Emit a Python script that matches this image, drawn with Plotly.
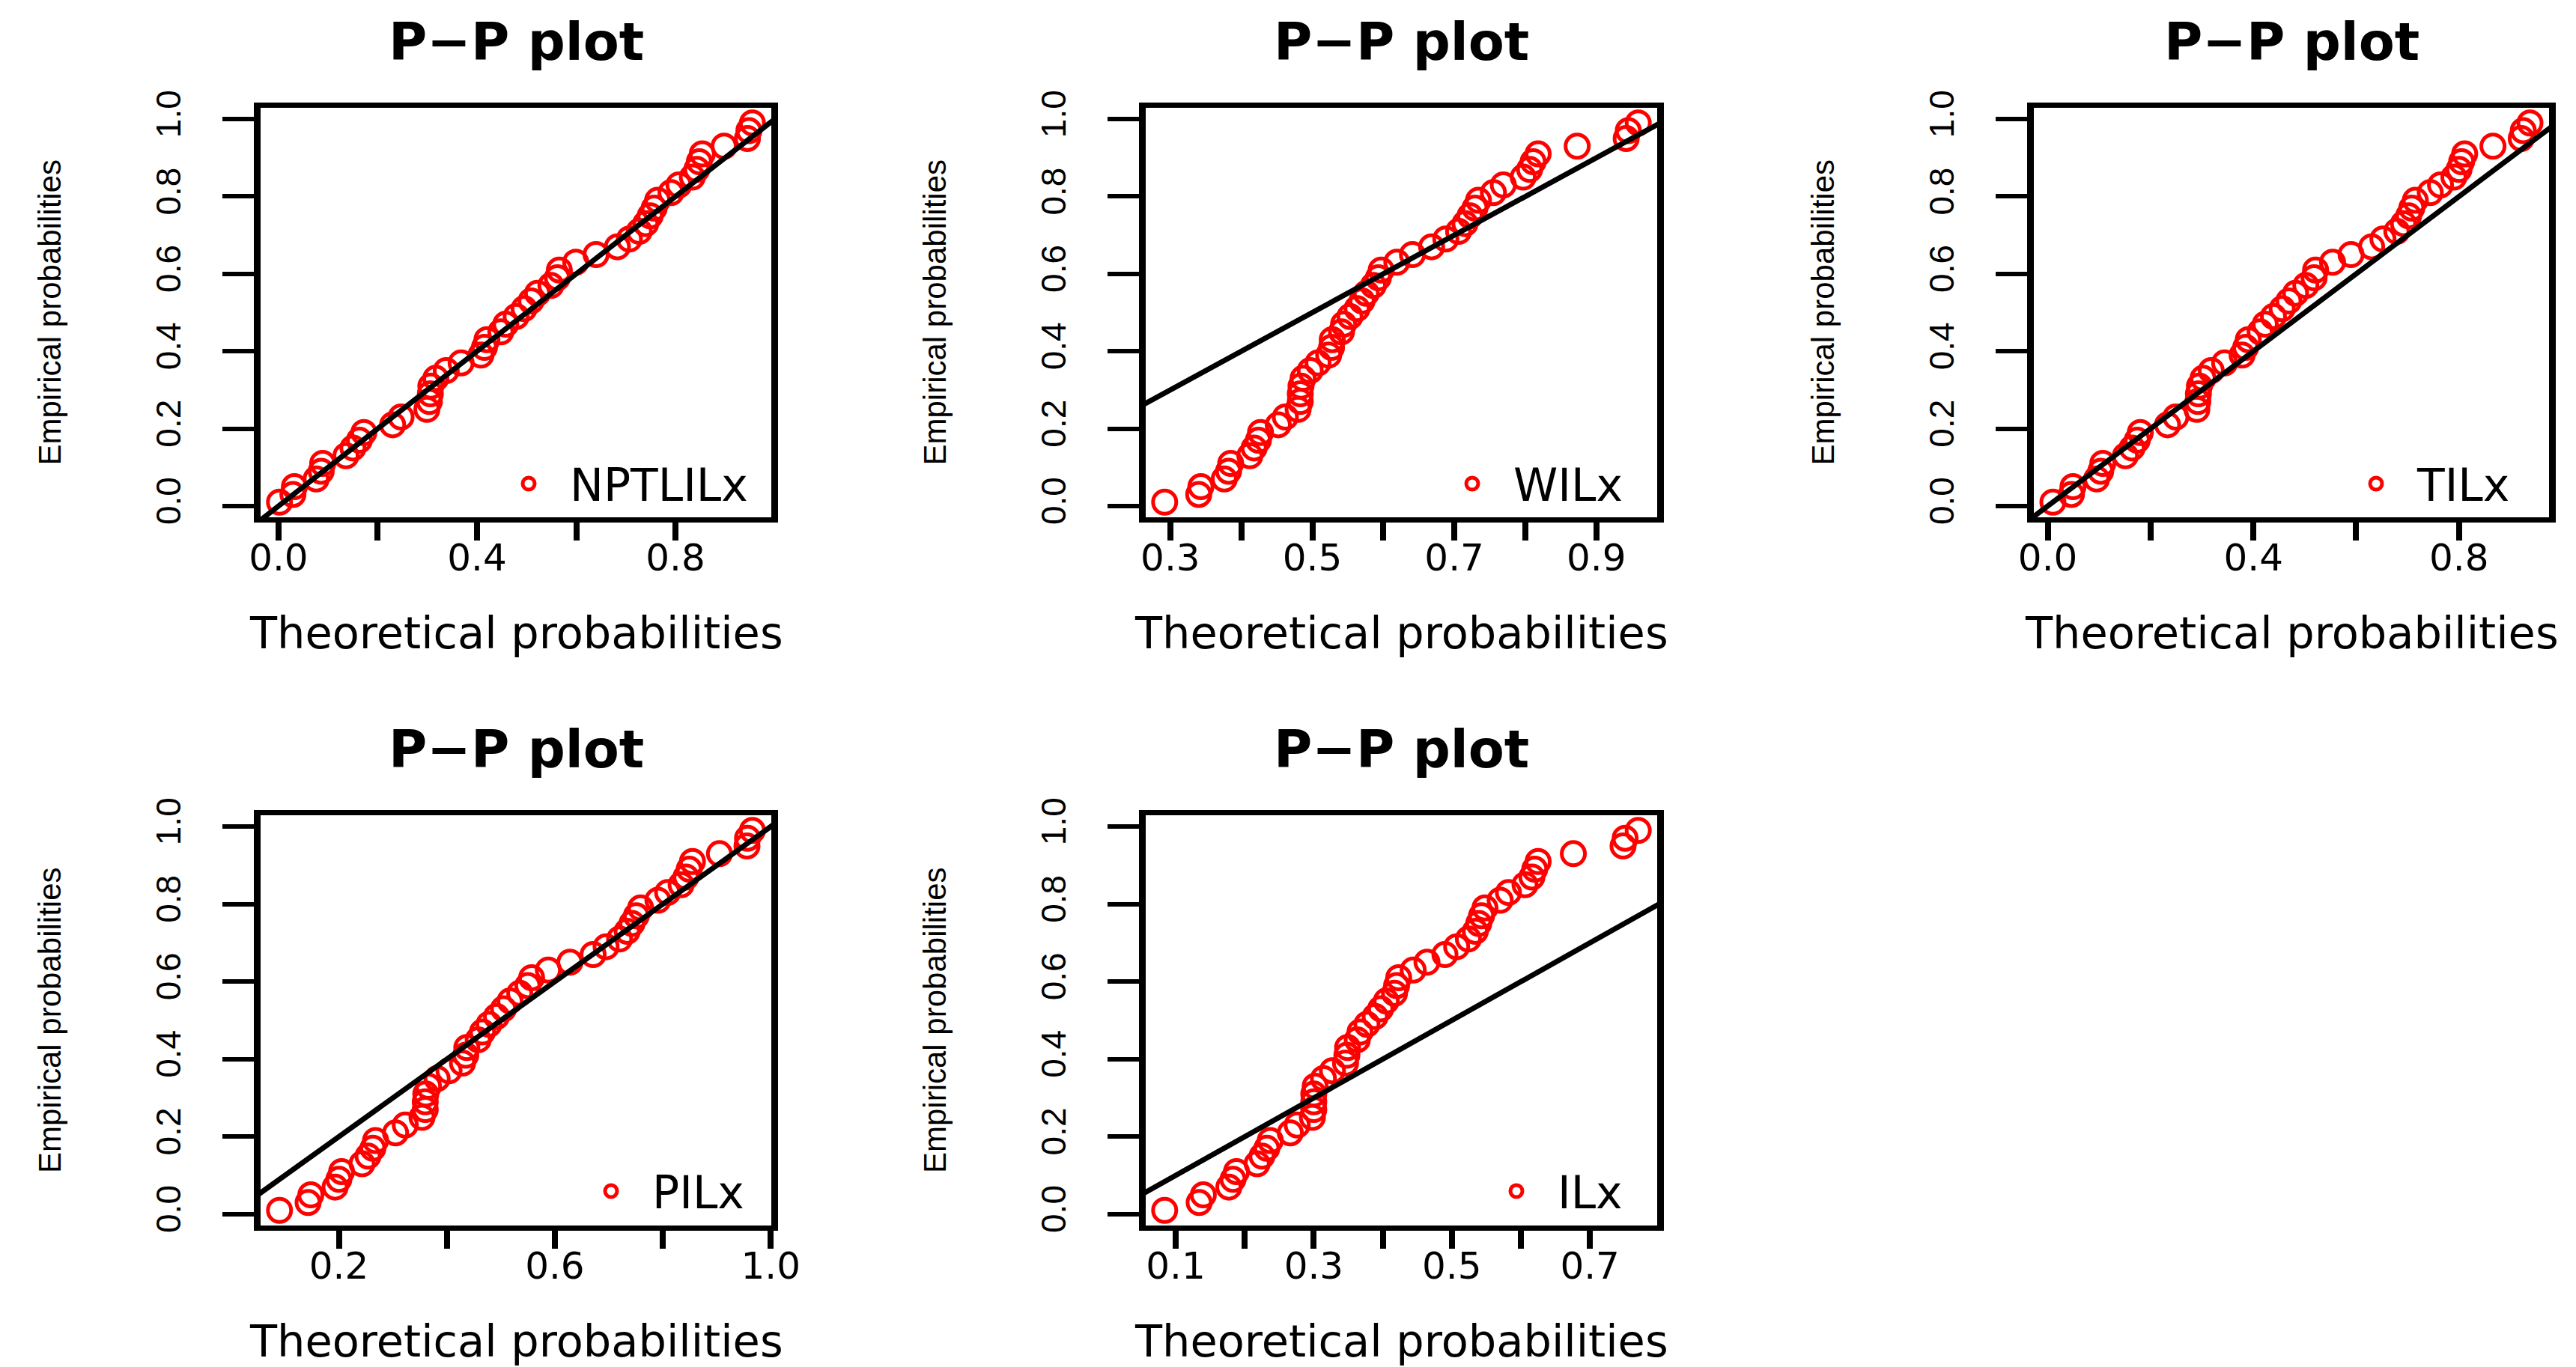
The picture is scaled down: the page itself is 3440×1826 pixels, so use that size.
import plotly.graph_objects as go

# ---------------- data ----------------
emp = [0.01, 0.03, 0.05, 0.07, 0.09, 0.11, 0.13, 0.15, 0.17, 0.19,
       0.21, 0.23, 0.25, 0.27, 0.29, 0.31, 0.33, 0.35, 0.37, 0.39,
       0.41, 0.43, 0.45, 0.47, 0.49, 0.51, 0.53, 0.55, 0.57, 0.59,
       0.61, 0.63, 0.65, 0.67, 0.69, 0.71, 0.73, 0.75, 0.77, 0.79,
       0.81, 0.83, 0.85, 0.87, 0.89, 0.91, 0.93, 0.95, 0.97, 0.99]

theo_nptlilx = [0.002, 0.029, 0.032, 0.076, 0.086, 0.089, 0.136, 0.150, 0.163, 0.172,
                0.230, 0.247, 0.299, 0.304, 0.306, 0.307, 0.317, 0.338, 0.368, 0.408,
                0.415, 0.420, 0.448, 0.458, 0.479, 0.495, 0.509, 0.522, 0.549, 0.562,
                0.566, 0.599, 0.640, 0.683, 0.707, 0.727, 0.740, 0.749, 0.757, 0.764,
                0.791, 0.807, 0.834, 0.843, 0.848, 0.854, 0.898, 0.945, 0.948, 0.955]

theo_wilx = [0.292, 0.340, 0.343, 0.376, 0.382, 0.385, 0.412, 0.418, 0.424, 0.427,
             0.452, 0.462, 0.480, 0.483, 0.483, 0.484, 0.487, 0.497, 0.508, 0.523,
             0.527, 0.528, 0.541, 0.544, 0.553, 0.563, 0.570, 0.576, 0.586, 0.593,
             0.597, 0.619, 0.641, 0.668, 0.688, 0.706, 0.715, 0.722, 0.729, 0.734,
             0.755, 0.769, 0.797, 0.806, 0.811, 0.818, 0.873, 0.942, 0.945, 0.959]

theo_tilx = [0.010, 0.046, 0.049, 0.095, 0.103, 0.107, 0.151, 0.164, 0.174, 0.180,
             0.233, 0.249, 0.290, 0.292, 0.293, 0.295, 0.302, 0.318, 0.344, 0.378,
             0.385, 0.390, 0.413, 0.423, 0.439, 0.456, 0.469, 0.482, 0.502, 0.518,
             0.521, 0.554, 0.590, 0.630, 0.652, 0.679, 0.692, 0.702, 0.708, 0.715,
             0.744, 0.764, 0.790, 0.800, 0.805, 0.811, 0.866, 0.921, 0.925, 0.938]

theo_pilx = [0.090, 0.143, 0.148, 0.193, 0.200, 0.205, 0.243, 0.254, 0.263, 0.268,
             0.305, 0.323, 0.354, 0.360, 0.360, 0.361, 0.366, 0.382, 0.404, 0.429,
             0.435, 0.437, 0.458, 0.466, 0.478, 0.492, 0.505, 0.517, 0.535, 0.550,
             0.557, 0.588, 0.628, 0.671, 0.695, 0.720, 0.734, 0.743, 0.751, 0.759,
             0.791, 0.809, 0.834, 0.843, 0.849, 0.855, 0.905, 0.956, 0.957, 0.966]

theo_ilx = [0.084, 0.134, 0.140, 0.177, 0.183, 0.188, 0.218, 0.225, 0.232, 0.237,
            0.266, 0.276, 0.298, 0.300, 0.300, 0.300, 0.302, 0.314, 0.327, 0.346,
            0.348, 0.349, 0.363, 0.367, 0.377, 0.389, 0.397, 0.405, 0.417, 0.420,
            0.423, 0.444, 0.464, 0.490, 0.507, 0.524, 0.534, 0.539, 0.543, 0.548,
            0.570, 0.582, 0.606, 0.616, 0.620, 0.625, 0.676, 0.748, 0.751, 0.770]

model_names = ["NPTLILx", "WILx", "TILx", "PILx", "ILx"]

x_tickvals_a = [0.0, 0.2, 0.4, 0.6, 0.8]
x_ticktext_a = ["0.0", "", "0.4", "", "0.8"]
x_tickvals_b = [0.3, 0.4, 0.5, 0.6, 0.7, 0.8, 0.9]
x_ticktext_b = ["0.3", "", "0.5", "", "0.7", "", "0.9"]
x_tickvals_c = [0.2, 0.4, 0.6, 0.8, 1.0]
x_ticktext_c = ["0.2", "", "0.6", "", "1.0"]
x_tickvals_d = [0.1, 0.2, 0.3, 0.4, 0.5, 0.6, 0.7]
x_ticktext_d = ["0.1", "", "0.3", "", "0.5", "", "0.7"]
y_tickvals = [0.0, 0.2, 0.4, 0.6, 0.8, 1.0]
y_ticktext = ["0.0", "0.2", "0.4", "0.6", "0.8", "1.0"]

title_text = "P\u2212P plot"
xlab = "Theoretical probabilities"
ylab = "Empirical probabilities"

# ---------------- layout geometry ----------------
W, H = 3440, 1826
OFF = 8  # page body margin offset
WIDE = "DejaVu Sans, Verdana, sans-serif"
NARROW = "Liberation Sans, Arial, Helvetica, sans-serif"

boxes = [  # (left, right, top, bottom) in page pixels
    (348, 1030, 144, 691),
    (1530, 2213, 144, 691),
    (2716, 3404, 144, 691),
    (348, 1030, 1089, 1637),
    (1530, 2213, 1089, 1637),
]
legend_pos = [  # (right edge px, center y px)
    (1004, 646), (2172, 646), (3358, 646), (999, 1591), (2172, 1591)
]

panels = [
    (theo_nptlilx, x_tickvals_a, x_ticktext_a),
    (theo_wilx, x_tickvals_b, x_ticktext_b),
    (theo_tilx, x_tickvals_a, x_ticktext_a),
    (theo_pilx, x_tickvals_c, x_ticktext_c),
    (theo_ilx, x_tickvals_d, x_ticktext_d),
]


def padded(vals):
    lo, hi = min(vals), max(vals)
    d = (hi - lo) * 0.04
    return [lo - d, hi + d]


fig = go.Figure()
layout = dict(
    width=W, height=H, autosize=False,
    margin=dict(l=0, r=0, t=0, b=0, pad=0, autoexpand=False),
    paper_bgcolor="white", plot_bgcolor="white",
    font=dict(family=WIDE, color="black"),
    annotations=[],
)

for k, (theo, tv, tt) in enumerate(panels):
    s = "" if k == 0 else str(k + 1)
    left, right, top, bottom = [v - OFF for v in boxes[k]]
    fig.add_trace(go.Scatter(
        x=theo, y=emp, mode="markers", name=model_names[k],
        xaxis="x" + s, yaxis="y" + s, legend="legend" + s,
        marker=dict(symbol="circle-open", size=31, color="#ff0000",
                    line=dict(width=5, color="#ff0000")),
        showlegend=True,
    ))
    fig.add_trace(go.Scatter(
        x=[-1, 2], y=[-1, 2], mode="lines",
        xaxis="x" + s, yaxis="y" + s,
        line=dict(color="black", width=7),
        showlegend=False, hoverinfo="skip",
    ))
    layout["xaxis" + s] = dict(
        domain=[left / W, right / W], anchor="y" + s, automargin=False,
        range=padded(theo), tickvals=tv, ticktext=tt,
        ticks="outside", ticklen=24, tickwidth=8, tickcolor="black",
        showline=True, linewidth=7, linecolor="black", mirror=True,
        showgrid=False, zeroline=False,
        tickfont=dict(family=WIDE, size=50, color="black"),
        ticklabelstandoff=-20,
    )
    layout["yaxis" + s] = dict(
        domain=[1 - bottom / H, 1 - top / H], anchor="x" + s, automargin=False,
        range=padded(emp), tickvals=y_tickvals, ticktext=y_ticktext,
        ticks="outside", ticklen=42, tickwidth=6, tickcolor="black",
        showline=True, linewidth=9, linecolor="black", mirror=True,
        showgrid=False, zeroline=False, tickangle=-90,
        tickfont=dict(family=NARROW, size=46, color="black"),
        ticklabelstandoff=38,
    )
    lx, ly = legend_pos[k]
    layout["legend" + s] = dict(
        x=(lx - OFF) / W, y=1 - (ly - OFF) / H, xanchor="right", yanchor="middle",
        xref="paper", yref="paper",
        bgcolor="rgba(0,0,0,0)", borderwidth=0,
        font=dict(family=WIDE, size=60, color="black"),
        itemsizing="trace", itemwidth=100,
    )
    xd = "x" + s + " domain"
    yd = "y" + s + " domain"
    layout["annotations"] += [
        dict(text="<b>" + title_text + "</b>", xref=xd, yref=yd, x=0.5, y=1,
             yshift=88, showarrow=False, xanchor="center", yanchor="middle",
             font=dict(family=WIDE, size=70, color="black")),
        dict(text=xlab, xref=xd, yref=yd, x=0.5, y=0, yshift=-154,
             showarrow=False, xanchor="center", yanchor="middle",
             font=dict(family=WIDE, size=59, color="black")),
        dict(text=ylab, xref=xd, yref=yd, x=0, y=0.5, xshift=-282,
             showarrow=False, xanchor="center", yanchor="middle", textangle=-90,
             font=dict(family=NARROW, size=42, color="black")),
    ]

fig.update_layout(**layout)
fig.write_html("out.html")
